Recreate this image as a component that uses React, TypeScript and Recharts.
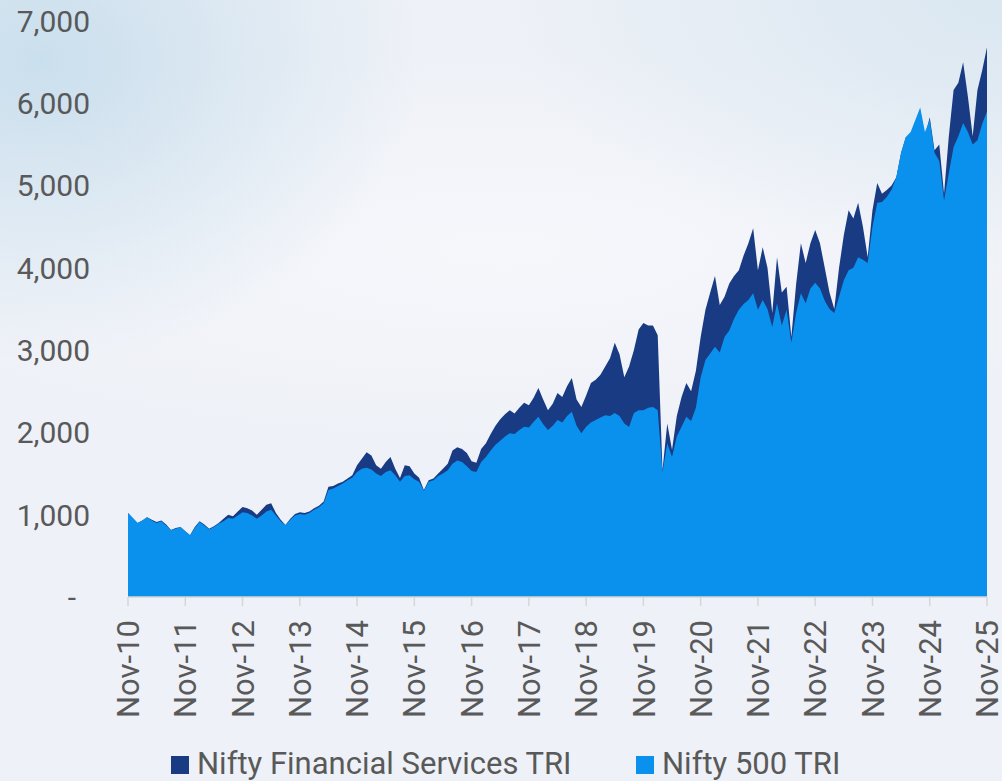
import React from "react";
import { AreaChart, Area, XAxis, YAxis } from "recharts";

// month index 0 = Nov-10 ... 180 = Nov-25
const finServices = [
  1020, 960, 900, 930, 970, 940, 910, 930, 880, 815, 840, 850,
  800, 750, 850, 920, 880, 830, 860, 900, 950, 1000, 980, 1040,
  1095, 1080, 1050, 1000, 1060, 1120, 1140, 1020, 940, 875, 950, 1010,
  1030, 1020, 1040, 1080, 1110, 1160, 1340, 1350, 1380, 1400, 1440, 1480,
  1600, 1680, 1760, 1720, 1600, 1560, 1640, 1700, 1560, 1445, 1600, 1590,
  1500, 1450, 1300, 1420, 1440, 1500, 1560, 1620, 1780, 1820, 1800, 1750,
  1650, 1630, 1800, 1870, 1980, 2080, 2160, 2220, 2270, 2230, 2300, 2360,
  2330, 2420, 2540, 2400, 2270, 2350, 2480, 2430, 2560, 2660, 2400, 2310,
  2450, 2600, 2640, 2700, 2800, 2900, 3090, 2950, 2670, 2800, 3000, 3250,
  3330, 3300, 3300, 3180, 1540, 2110, 1790, 2200, 2430, 2600, 2500, 2750,
  3160, 3490, 3700, 3900, 3550, 3650, 3810, 3900, 3970, 4150, 4300, 4480,
  3970, 4250, 4000, 3450, 4130, 3700, 3770, 3160, 3800, 4300, 4060, 4300,
  4460, 4300, 4000, 3700, 3500, 4000, 4400, 4700, 4600, 4790, 4500, 4130,
  4700, 5030, 4900, 4945, 5000, 5100, 5400, 5590, 5600, 5750, 5920, 5600,
  5830, 5430, 5500, 4900, 5600, 6160, 6250, 6500, 6080, 5600, 6160, 6400, 6680,
];

const nifty500 = [
  1020, 960, 900, 930, 970, 930, 900, 920, 870, 815, 830, 850,
  800, 750, 840, 910, 870, 820, 850, 890, 920, 960, 950, 990,
  1030, 1020, 990, 950, 990, 1040, 1060, 990, 920, 875, 940, 990,
  1010, 1000, 1020, 1060, 1090, 1140, 1300, 1320, 1350, 1380, 1420, 1450,
  1520, 1560, 1570, 1550, 1500, 1470, 1520, 1540, 1480, 1400, 1470, 1480,
  1430, 1400, 1290, 1400, 1420, 1470, 1500, 1540, 1620, 1660, 1640, 1590,
  1530, 1520, 1640, 1700, 1780, 1850, 1900, 1950, 1990, 1980, 2030, 2070,
  2060, 2130, 2190, 2100, 2030, 2080, 2150, 2120, 2200, 2250, 2080, 1990,
  2070, 2120, 2150, 2180, 2210, 2200, 2235, 2200, 2110, 2065, 2235, 2270,
  2270, 2300, 2310, 2270, 1520, 1870, 1700, 1950, 2070, 2190, 2140, 2300,
  2670, 2880, 2960, 3040, 2970, 3160, 3240, 3380, 3490, 3560, 3610, 3690,
  3490, 3610, 3500, 3280, 3570, 3300, 3490, 3090, 3450, 3690, 3570, 3750,
  3820, 3750, 3600, 3500, 3450, 3650, 3850, 3970, 4000, 4130, 4100, 4060,
  4500, 4790, 4800, 4860, 4950, 5100, 5400, 5590, 5650, 5800, 5950, 5650,
  5800, 5400, 5300, 4820, 5150, 5470, 5600, 5760, 5650, 5500, 5550, 5750, 5900,
];

const xLabels = [
  "Nov-10", "Nov-11", "Nov-12", "Nov-13", "Nov-14", "Nov-15", "Nov-16", "Nov-17",
  "Nov-18", "Nov-19", "Nov-20", "Nov-21", "Nov-22", "Nov-23", "Nov-24", "Nov-25",
];
const yTicks = [0, 1000, 2000, 3000, 4000, 5000, 6000, 7000];

const SERIES = [
  { key: "fin", name: "Nifty Financial Services TRI", color: "#183b84" },
  { key: "n500", name: "Nifty 500 TRI", color: "#0a91ee" },
];

const data = finServices.map((v, i) => ({ m: i, fin: v, n500: nifty500[i] }));
const xTicks = xLabels.map((_, k) => k * 12);

const FONT = "Roboto, 'Noto Sans', sans-serif";
const TEXT = "#595959";

const YTick = (props: any) => {
  const { x, y, payload } = props;
  const v = payload.value;
  return (
    <text
      x={v === 0 ? x - 14 : x}
      y={y}
      dy="0.36em"
      textAnchor="end"
      fill={TEXT}
      fontSize={30}
      fontFamily={FONT}
    >
      {v === 0 ? "-" : v.toLocaleString("en-US")}
    </text>
  );
};

const XTick = (props: any) => {
  const { x, y, payload } = props;
  return (
    <text
      x={x}
      y={y}
      dy="0.36em"
      transform={`rotate(-90, ${x}, ${y})`}
      textAnchor="end"
      fill={TEXT}
      fontSize={31}
      fontFamily={FONT}
    >
      {xLabels[Math.round(payload.value / 12)]}
    </text>
  );
};

export default function App() {
  return (
    <div
      style={{
        position: "absolute",
        left: 0,
        top: 0,
        width: 1002,
        height: 781,
        overflow: "hidden",
        fontFamily: FONT,
        background:
          "radial-gradient(ellipse 380px 300px at 40px 60px, #cadfed 0%, rgba(202,223,237,0) 100%)," +
          "radial-gradient(ellipse 500px 260px at 1002px 0px, #dae7f1 0%, rgba(218,231,241,0) 100%)," +
          "radial-gradient(ellipse 700px 200px at 500px 250px, #f6f7fb 0%, rgba(246,247,251,0) 100%)," +
          "#eef1f7",
      }}
    >
      <AreaChart
        width={1002}
        height={781}
        data={data}
        margin={{ top: 21, right: 15, bottom: 0, left: 0 }}
      >
        <XAxis
          dataKey="m"
          type="number"
          domain={[0, 180]}
          ticks={xTicks}
          interval={0}
          height={184}
          axisLine={{ stroke: "#d6d6d6", strokeWidth: 1.5 }}
          tickLine={{ stroke: "#d6d6d6", strokeWidth: 1.5 }}
          tickSize={9}
          tickMargin={14}
          tick={<XTick />}
        />
        <YAxis
          type="number"
          domain={[0, 7000]}
          ticks={yTicks}
          interval={0}
          width={128}
          axisLine={false}
          tickLine={false}
          tickSize={0}
          tickMargin={38}
          tick={<YTick />}
        />
        {SERIES.map((s) => (
          <Area
            key={s.key}
            dataKey={s.key}
            name={s.name}
            type="linear"
            stroke="none"
            fill={s.color}
            fillOpacity={1}
            isAnimationActive={false}
          />
        ))}
      </AreaChart>
      {SERIES.map((s, k) => {
        const left = k === 0 ? 171 : 636;
        return (
          <React.Fragment key={s.key}>
            <span
              style={{
                position: "absolute",
                left,
                top: 756,
                width: 18,
                height: 18,
                background: s.color,
              }}
            />
            <span
              style={{
                position: "absolute",
                left: left + 26,
                top: 748,
                fontSize: 31,
                lineHeight: "31px",
                color: TEXT,
                whiteSpace: "nowrap",
              }}
            >
              {s.name}
            </span>
          </React.Fragment>
        );
      })}
    </div>
  );
}
